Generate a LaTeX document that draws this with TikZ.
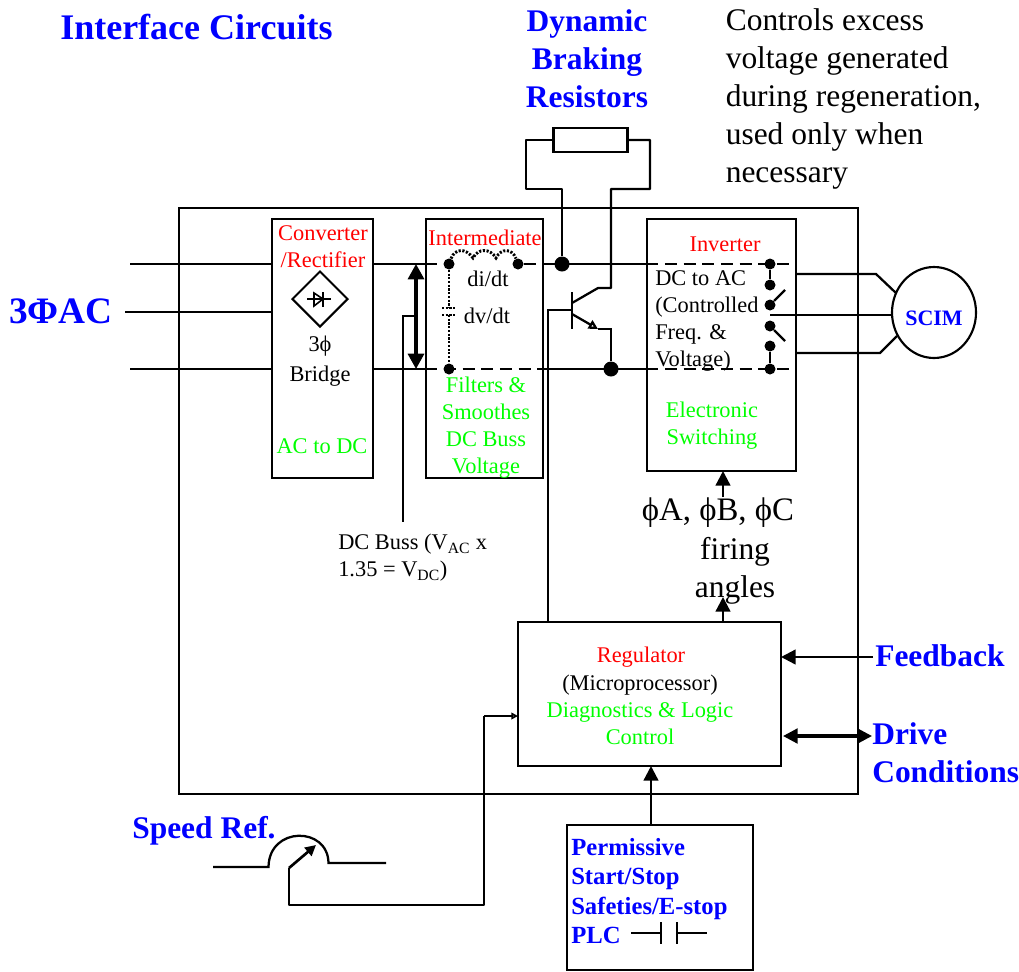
\documentclass[tikz,border=0pt]{standalone}
\usepackage{fontspec}
\setmainfont{Liberation Serif}
\usepackage{xcolor}
\usetikzlibrary{arrows.meta,positioning,calc,shapes.geometric}
\def\px{0.75pt}
\definecolor{lblblue}{RGB}{0,0,255}
\definecolor{lblred}{RGB}{255,0,0}
\definecolor{lblgreen}{RGB}{0,255,0}
\newcommand{\fsmall}{\fontsize{16.8pt}{20.3pt}\selectfont}
\newcommand{\fbig}{\fontsize{23.6pt}{28.5pt}\selectfont}
\tikzset{
  blockbox/.style={draw,line width=1.1pt,inner sep=0pt},
  busdot/.style={circle,fill=black,inner sep=0pt,minimum size=11*\px},
  bigdot/.style={circle,fill=black,inner sep=0pt,minimum size=15*\px},
  wire/.style={line width=1.7pt},
  thinwire/.style={line width=1.2pt},
  busdash/.style={line width=2.2pt,dash pattern=on 9pt off 5pt},
  dotwire/.style={line width=2.2pt,dash pattern=on 1.6pt off 1.2pt},
  arrowwire/.style={line width=1.8pt,-{Triangle[length=11pt,width=11pt]}},
  txt/.style={inner sep=0pt,align=center,font=\fsmall},
  redtxt/.style={txt,text=lblred},
  greentxt/.style={txt,text=lblgreen},
  bluetxt/.style={inner sep=0pt,align=left,text=lblblue,font=\fbig\bfseries},
}
\begin{document}
\begin{tikzpicture}[x=0.75pt,y=-0.75pt]
\useasboundingbox (0,0) rectangle (1019,971);
% --- blocks ---
\node[blockbox,minimum width=679*\px,minimum height=586*\px] (outer) at (518.5,501) {};
\node[blockbox,minimum width=101*\px,minimum height=259*\px] (conv) at (322.5,348.5) {};
\node[blockbox,minimum width=117*\px,minimum height=259*\px] (inter) at (484.5,348.5) {};
\node[blockbox,minimum width=149*\px,minimum height=252*\px] (inv) at (721.5,345) {};
\node[blockbox,minimum width=263*\px,minimum height=144*\px] (reg) at (649.5,694) {};
\node[blockbox,line width=1.6pt,minimum width=186*\px,minimum height=145*\px] (perm) at (660,897.5) {};
\node[blockbox,line width=1.6pt,minimum width=74*\px,minimum height=24*\px] (res) at (590.5,140) {};
\node[ellipse,draw,line width=1.6pt,inner sep=0pt,minimum width=84*\px,minimum height=91*\px] (scim) at (934,312.5) {};
\node[text=lblblue,inner sep=0pt,font=\fontsize{16.5pt}{18pt}\selectfont\bfseries] (scimlab) at (934,318) {SCIM};
% --- titles ---
\node[bluetxt,anchor=west,font=\fontsize{27pt}{30pt}\selectfont\bfseries] (title) at (60,27) {Interface Circuits};
\node[bluetxt,align=center] (dbr) at (587,59) {Dynamic\\Braking\\Resistors};
\node[txt,align=left,anchor=north west,font=\fbig] (note) at (725.5,8.5) {Controls excess\\voltage generated\\during regeneration,\\used only when\\necessary};
\node[bluetxt,anchor=west,font=\fontsize{28pt}{30pt}\selectfont\bfseries] (ac) at (9,311) {3ΦAC};
% --- block labels ---
\node[redtxt] (convlab) at (323,247) {Converter\\/Rectifier};
\node[txt,font=\fontsize{16.8pt}{22pt}\selectfont] (bridge) at (320,361) {3ϕ\\Bridge};
\node[greentxt] (acdc) at (322,446) {AC to DC};
\node[redtxt] (interlab) at (485,238) {Intermediate};
\node[txt] (didt) at (488,279) {di/dt};
\node[txt] (dvdt) at (487,316) {dv/dt};
\node[greentxt] (filt) at (486,428) {Filters \&\\Smoothes\\DC Buss\\Voltage};
\node[redtxt] (invlab) at (725,244) {Inverter};
\node[txt,align=left,anchor=north west] (dcac) at (655,270) {DC to AC\\(Controlled\\Freq. \&\\Voltage)};
\node[greentxt] (elec) at (712,426) {Electronic\\Switching};
\node[txt,font=\fontsize{24.6pt}{28.5pt}\selectfont] (phi) at (718,513) {ϕA, ϕB, ϕC};
\node[txt,font=\fbig] (firing) at (735,570.5) {firing\\angles};
\node[txt,align=left,anchor=north west] (dcbuss) at (338,534) {DC Buss (V\textsubscript{AC} x\\1.35 = V\textsubscript{DC})};
\node[redtxt] (reglab) at (641,657) {Regulator};
\node[txt] (micro) at (640,685) {(Microprocessor)};
\node[greentxt] (diag) at (640,724) {Diagnostics \& Logic\\Control};
\node[bluetxt,anchor=west] (fb) at (875,656) {Feedback};
\node[bluetxt,anchor=north west] (drive) at (872,722) {Drive\\Conditions};
\node[bluetxt,anchor=west] (speed) at (132,830.5) {Speed Ref.};
\node[bluetxt,anchor=north west,font=\fontsize{18.5pt}{22pt}\selectfont\bfseries] (permlab) at (571,838) {Permissive\\Start/Stop\\Safeties/E-stop\\PLC};
% --- buses ---
\coordinate (tin) at (130,264);
\coordinate (min) at (125,312);
\coordinate (bin) at (130,369);
\node[busdot] (dcoil) at (449,264) {};
\node[busdot] (dcoilb) at (518,264) {};
\node[busdot] (dcap) at (449,369) {};
\node[bigdot] (jtop) at (562,264) {};
\node[bigdot] (jbot) at (611,369) {};
\draw[wire] (tin) -- (conv.west |- tin);
\draw[wire] (min) -- (conv.west |- min);
\draw[wire] (bin) -- (conv.west |- bin);
\draw[wire] (conv.east |- tin) -- (inter.west |- tin);
\draw[wire] (conv.east |- bin) -- (inter.west |- bin);
\draw[busdash] (inter.west |- tin) -- (dcoil);
\draw[busdash] (dcoilb) -- (inter.east |- tin);
\draw[busdash] (inter.west |- bin) -- (inter.east |- bin);
\draw[wire] (inter.east |- tin) -- (inv.west |- tin);
\draw[wire] (inter.east |- bin) -- (inv.west |- bin);
\draw[busdash] (inv.west |- tin) -- (inv.east |- tin);
\draw[busdash] (inv.west |- bin) -- (inv.east |- bin);
% --- filter ---
\draw[dotwire] (dcoil) .. controls (455,248) and (466,248) .. (473,258)
   .. controls (478,248) and (490,248) .. (496,258)
   .. controls (501,248) and (512,248) .. (dcoilb);
\coordinate (capa) at (449,308);
\coordinate (capb) at (449,315);
\draw[dotwire] (dcoil) -- (capa);
\draw[dotwire] (capb) -- (dcap);
\draw[dotwire] ($(capa)+(-7,0)$) -- ($(capa)+(7,0)$);
\draw[dotwire] ($(capb)+(-7,0)$) -- ($(capb)+(7,0)$);
% --- DC buss arrow and leader ---
\coordinate (buss) at (416,316);
\coordinate (bussb) at (403,316);
\coordinate (bussc) at (403,522);
\draw[line width=2.4pt,{Triangle[length=11.5pt,width=12pt]}-{Triangle[length=11.5pt,width=12pt]}] (416,264) -- (416,369);
\draw[thinwire] (buss) -- (bussb) -- (bussc);
% --- bridge symbol ---
\node[diamond,draw,line width=1.5pt,inner sep=0pt,minimum width=56*\px,minimum height=56*\px] (dia) at (320,299) {};
\draw[thinwire] (307,299) -- (331,299);
\draw[thinwire] (314,293) -- (323,299) -- (314,306) -- cycle;
\draw[thinwire] (323,292) -- (323,307);
% --- braking resistor and transistor ---
\coordinate (rl) at (526,140);
\coordinate (rld) at (526,189);
\coordinate (rm) at (562,189);
\coordinate (rr) at (650,140);
\coordinate (rrd) at (650,189);
\coordinate (cold) at (611,189);
\coordinate (colb) at (611,288);
\coordinate (colc) at (598,288);
\coordinate (base) at (572,310);
\coordinate (basel) at (548,310);
\coordinate (emit) at (572,314);
\coordinate (emitb) at (598,329);
\coordinate (emitc) at (611,329);
\draw[wire,line join=round] (res.west) -- (rl) -- (rld) -- (rm) -- (jtop);
\draw[wire,line join=round] (res.east) -- (rr) -- (rrd) -- (cold) -- (colb) -- (colc) -- (572,303);
\draw[wire] (572,292) -- (572,329);
\draw[wire,-{Triangle[open,length=7pt,width=7pt]}] (emit) -- (emitb);
\draw[wire] (emitb) -- (emitc) -- (jbot);
\draw[wire] (base) -- (basel) -- (basel |- reg.north);
% --- inverter switches and motor leads ---
\foreach \nm/\y in {sa/264,sb/285,sc/305,sd/326,se/346,sf/369}{
  \node[busdot] (\nm) at (770,\y) {};}
\draw[wire] (sa) -- (sb);
\draw[wire] (se) -- (sf);
\draw[wire] (sc) -- (785,290);
\draw[wire] (sd) -- (785,341);
\draw[wire] (inv.east |- 0,274) -- (876,274) -- (896,293);
\draw[wire] (770,315) -- (892,315);
\draw[wire] (inv.east |- 0,353) -- (880,353) -- (897,336);
% --- control arrows ---
\draw[arrowwire] (723,497) -- (723,471);
\draw[arrowwire] (reg.north -| 723,0) -- (723,597);
\draw[arrowwire] (873,657) -- (781,657);
\draw[line width=2.4pt,{Triangle[length=11pt,width=11pt]}-{Triangle[length=11pt,width=11pt]}] (783,736) -- (872,736);
\draw[arrowwire] (perm.north -| 651,0) -- (651,766);
% --- speed reference ---
\draw[wire] (213,867) -- (268.5,867) .. controls (269,826) and (328,826) .. (328.5,863) -- (386,863);
\coordinate (pot) at (289,868);
\coordinate (potb) at (289,905);
\coordinate (potc) at (484,905);
\coordinate (potd) at (484,716);
\draw[line width=2pt,-{Triangle[length=8pt,width=8pt]}] (pot) -- (316,845);
\draw[wire,line join=round] (pot) -- (potb) -- (potc) -- (potd);
\draw[line width=2pt,-{Triangle[open,length=5pt,width=5pt]}] (potd) -- (518,716);
% --- PLC contact ---
\draw[wire] (631,933) -- (661,933);
\draw[wire] (661,922) -- (661,944);
\draw[wire] (677,922) -- (677,944);
\draw[wire] (677,933) -- (707,933);
\end{tikzpicture}
\end{document}
